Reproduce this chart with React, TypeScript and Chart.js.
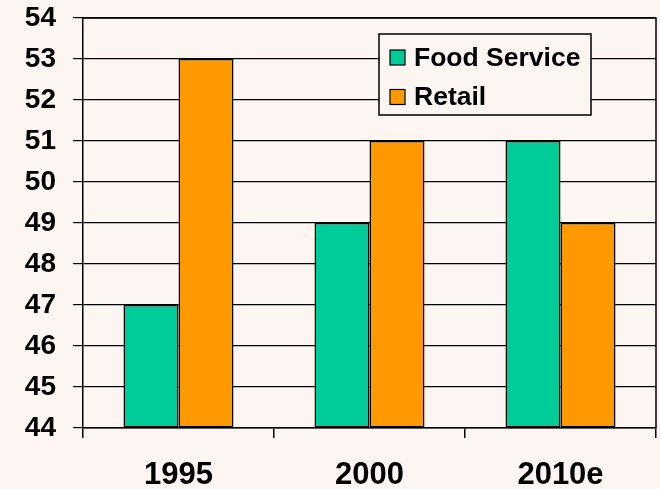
import React, { useEffect, useRef } from "react";
import { Chart, registerables } from "chart.js";

Chart.register(...registerables);

const categories = ["1995", "2000", "2010e"];
const foodService = [47, 49, 51];
const retail = [53, 51, 49];
const seriesNames = ["Food Service", "Retail"];
const seriesColors = ["#00CC99", "#FF9900"];
const yMin = 44;
const yMax = 54;

const FONT = "Arial, 'Liberation Sans', Helvetica, sans-serif";
const BG = "#fcf5f2";

const bgPlugin = {
  id: "bgFill",
  beforeDraw(chart: any) {
    const { ctx, width, height } = chart;
    ctx.save();
    ctx.fillStyle = BG;
    ctx.fillRect(0, 0, width, height);
    ctx.restore();
  },
};

const framePlugin = {
  id: "frame",
  afterDatasetsDraw(chart: any) {
    const { ctx, chartArea } = chart;
    ctx.save();
    ctx.strokeStyle = "#000";
    ctx.lineWidth = 1.5;
    ctx.beginPath();
    ctx.moveTo(chartArea.left, chartArea.top);
    ctx.lineTo(chartArea.right, chartArea.top);
    ctx.lineTo(chartArea.right, chartArea.bottom);
    ctx.stroke();
    ctx.restore();
  },
};

const legendPlugin = {
  id: "boxLegend",
  afterDraw(chart: any) {
    const { ctx } = chart;
    const x0 = 379, y0 = 34, w = 212, h = 81;
    ctx.save();
    ctx.fillStyle = BG;
    ctx.fillRect(x0, y0, w, h);
    ctx.strokeStyle = "#000";
    ctx.lineWidth = 1.5;
    ctx.strokeRect(x0, y0, w, h);
    chart.data.datasets.forEach((ds: any, i: number) => {
      const cy = 57.5 + i * 39.5;
      ctx.fillStyle = ds.backgroundColor;
      ctx.fillRect(390, cy - 7.5, 15, 15);
      ctx.lineWidth = 1.2;
      ctx.strokeStyle = "#000";
      ctx.strokeRect(390, cy - 7.5, 15, 15);
      ctx.fillStyle = "#000";
      ctx.font = `bold 26.5px ${FONT}`;
      ctx.textBaseline = "middle";
      ctx.textAlign = "left";
      ctx.fillText(ds.label, 414, cy + 1);
    });
    ctx.restore();
  },
};

export default function App() {
  const ref = useRef<HTMLCanvasElement | null>(null);

  useEffect(() => {
    document.body.style.margin = "0";
    const canvas = ref.current;
    if (!canvas) return;
    const chart = new Chart(canvas, {
      type: "bar",
      data: {
        labels: categories,
        datasets: [
          {
            label: seriesNames[0],
            data: foodService,
            backgroundColor: seriesColors[0],
            borderColor: "#000",
            borderWidth: 1.5,
            borderSkipped: false,
            base: yMin,
          } as any,
          {
            label: seriesNames[1],
            data: retail,
            backgroundColor: seriesColors[1],
            borderColor: "#000",
            borderWidth: 1.5,
            borderSkipped: false,
            base: yMin,
          } as any,
        ],
      },
      options: {
        animation: false,
        responsive: true,
        maintainAspectRatio: false,
        devicePixelRatio: 1,
        layout: { padding: { top: 18, right: 4, left: 0, bottom: 0 } },
        datasets: {
          bar: { categoryPercentage: 0.576, barPercentage: 1 },
        },
        plugins: {
          legend: { display: false },
          tooltip: { enabled: false },
        },
        scales: {
          x: {
            offset: true,
            grid: {
              display: true,
              offset: true,
              drawOnChartArea: false,
              drawTicks: true,
              tickLength: 10,
              color: "#000",
              lineWidth: 1.5,
            },
            border: { display: true, color: "#000", width: 1.5 },
            ticks: {
              color: "#000",
              font: { family: FONT, size: 31, weight: "bold" },
              padding: 19,
              maxRotation: 0,
            },
            afterFit(scale: any) {
              scale.height = 61;
              scale.paddingLeft = 0;
              scale.paddingRight = 0;
            },
          },
          y: {
            min: yMin,
            max: yMax,
            grid: {
              color: "#000",
              lineWidth: 1.2,
              tickLength: 10,
              drawTicks: true,
            },
            border: { display: true, color: "#000", width: 1.5 },
            ticks: {
              stepSize: 1,
              color: "#000",
              font: { family: FONT, size: 28, weight: "bold" },
              padding: 17,
            },
            afterFit(scale: any) {
              scale.width = 83;
              scale.paddingTop = 0;
              scale.paddingBottom = 0;
            },
          },
        },
      },
      plugins: [bgPlugin, framePlugin, legendPlugin],
    });
    return () => chart.destroy();
  }, []);

  return (
    <div style={{ position: "relative", width: 660, height: 489 }}>
      <canvas ref={ref} />
    </div>
  );
}
